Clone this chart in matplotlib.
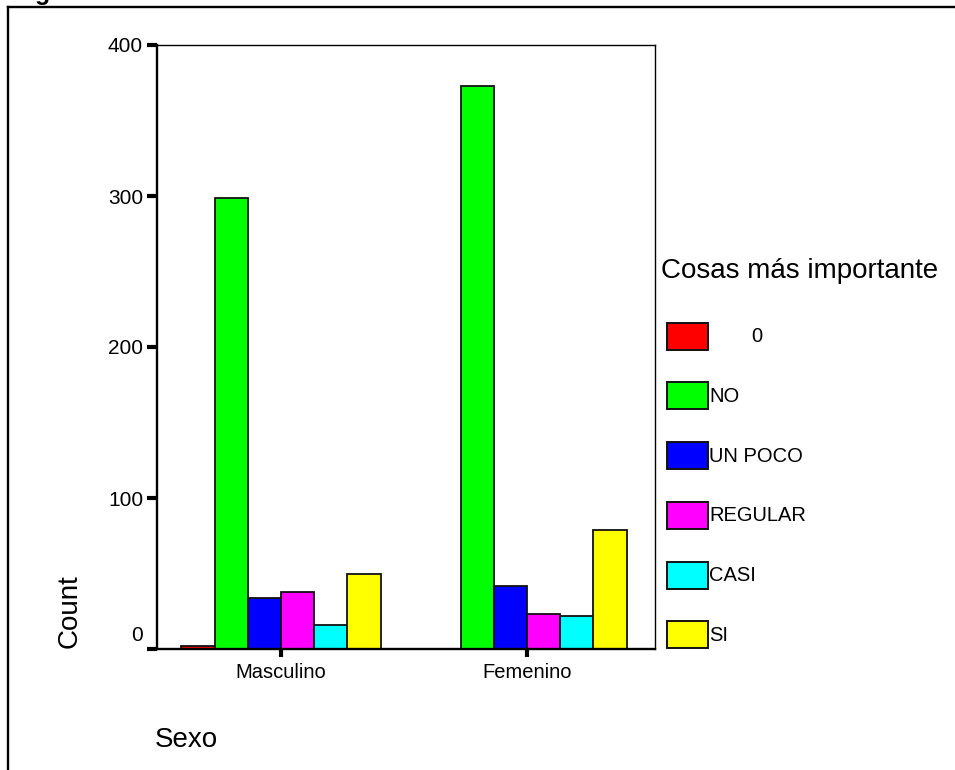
import matplotlib
matplotlib.use("Agg")
import matplotlib.pyplot as plt
from matplotlib.patches import Rectangle
from matplotlib.lines import Line2D
import numpy as np

# Data: counts of "Cosas más importante" by Sexo
groups = ["Masculino", "Femenino"]
categories = ["0", "NO", "UN POCO", "REGULAR", "CASI", "SI"]
masculino = [2, 299, 34, 38, 16, 50]
femenino = [0, 373, 42, 23, 22, 79]
colors = ["#FF0000", "#00FF00", "#0000FF", "#FF00FF", "#00FFFF", "#FFFF00"]
yticks = [0, 100, 200, 300, 400]

W, H = 955, 770
plt.rcParams["font.family"] = ["Liberation Sans", "DejaVu Sans"]
fig = plt.figure(figsize=(W / 100, H / 100), dpi=100)

def fx(px):
    return px / W

def fy(py):
    return 1 - py / H

ax = fig.add_axes([fx(157), fy(649), fx(655) - fx(157), fy(45) - fy(649)])

values = np.array([masculino, femenino])
bar_w = 0.135
centers = np.arange(len(groups))
for i, (cat, col) in enumerate(zip(categories, colors)):
    ax.bar(centers + (i - 2.5) * bar_w, values[:, i], width=bar_w,
           color=col, edgecolor="#111111", linewidth=1.3, align="center", zorder=2)

ax.set_xlim(-0.504, 1.52)
ax.set_ylim(0, 400)

# axis frame: heavier left/bottom, thin top/right
ax.spines["left"].set_linewidth(1.7)
ax.spines["bottom"].set_linewidth(1.7)
ax.spines["top"].set_linewidth(1.0)
ax.spines["right"].set_linewidth(1.0)
for s in ax.spines.values():
    s.set_zorder(3)

ax.set_yticks(yticks)
ax.set_yticklabels(["" if v == 0 else str(v) for v in yticks], fontsize=15)
ax.tick_params(axis="y", direction="out", length=7, width=3, pad=3)
ax.set_xticks(centers)
ax.set_xticklabels(groups, fontsize=14.5)
ax.tick_params(axis="x", direction="out", length=6, width=3, pad=4)
# zero label sits a little above the baseline
ax.annotate("0", xy=(0, 0), xycoords=("axes fraction", "data"),
            xytext=(-10, 10), textcoords="offset points",
            ha="right", va="center", fontsize=15)

# axis titles
fig.text(fx(70), fy(611), "Count", rotation=90, fontsize=20,
         ha="center", va="center")
fig.text(fx(155), fy(740), "Sexo", fontsize=20, ha="left", va="center")

# legend
fig.text(fx(661), fy(271), "Cosas más importante", fontsize=20,
         ha="left", va="center")
for i, (cat, col) in enumerate(zip(categories, colors)):
    top = 322.7 + 59.7 * i
    fig.patches.append(Rectangle((fx(667), fy(top + 27)), fx(41), 27 / H,
                                 transform=fig.transFigure, facecolor=col,
                                 edgecolor="#111111", linewidth=1.4))
    if cat == "0":
        fig.text(fx(751), fy(top + 14), cat, fontsize=14.5,
                 ha="left", va="center")
    else:
        fig.text(fx(709), fy(top + 14), cat, fontsize=14.5,
                 ha="left", va="center")

# outer frame of the output page
fig.add_artist(Line2D([fx(7.5), 1.0], [fy(6.5), fy(6.5)],
                      transform=fig.transFigure, color="black", linewidth=1.7))
fig.add_artist(Line2D([fx(7.5), fx(7.5)], [fy(6.5), 0.0],
                      transform=fig.transFigure, color="black", linewidth=1.7))
fig.text(fx(35), 1 + 0.5 / H, "g", fontsize=18, fontweight="bold",
         ha="left", va="baseline")

fig.savefig("out.png", dpi=100)
